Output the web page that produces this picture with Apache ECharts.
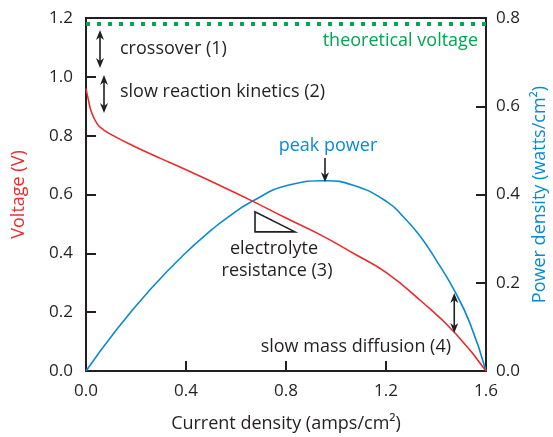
<!DOCTYPE html>
<html><head><meta charset="utf-8">
<script src="https://cdn.jsdelivr.net/npm/echarts@6/dist/echarts.min.js"></script>
<style>html,body{margin:0;padding:0;background:#fff}#c{width:553px;height:437px}</style>
</head><body><div id="c"></div>
<script>
// ---- data ----
var voltageCurrent = [0, 0.01, 0.02, 0.045, 0.07, 0.12, 0.19, 0.3, 0.38, 0.5, 0.66, 0.8, 0.94, 1.08, 1.2, 1.34, 1.48, 1.6];
var voltageValues  = [0.96, 0.92, 0.885, 0.84, 0.82, 0.795, 0.765, 0.722, 0.692, 0.645, 0.58, 0.52, 0.462, 0.395, 0.335, 0.238, 0.126, 0];
var powerCurrent = [0, 0.125, 0.259, 0.39, 0.509, 0.552, 0.663, 0.816, 0.956, 1.069, 1.203, 1.27, 1.336, 1.40, 1.469, 1.536, 1.6];
var powerValues  = [0, 0.096, 0.186, 0.263, 0.323, 0.342, 0.384, 0.422, 0.431, 0.421, 0.384, 0.349, 0.306, 0.252, 0.187, 0.108, 0];
var theoreticalVoltage = 1.175;
var xTicks = [0, 0.4, 0.8, 1.2, 1.6];
var leftTicks = [0, 0.2, 0.4, 0.6, 0.8, 1.0, 1.2];
var rightTicks = [0, 0.2, 0.4, 0.6, 0.8];

var INK = '#231f20', RED = '#ec2a2a', BLUE = '#0a8ad0', GREEN = '#00a651';
var FONT = 'Open Sans';

function pairs(xs, ys){ return xs.map(function(x,i){return [x, ys[i]];}); }

var chart = echarts.init(document.getElementById('c'));
var axisCommon = {
  axisLine:{show:true, lineStyle:{color:INK, width:2}},
  axisTick:{show:true, inside:true, length:10, lineStyle:{color:INK, width:2}},
  splitLine:{show:false},
  nameMoveOverlap:false,
  axisLabel:{color:INK, fontSize:17, fontFamily:FONT, formatter:function(v){return v.toFixed(1);}}
};
chart.setOption({
  animation:false,
  grid:{left:86, right:67, top:18, bottom:66, show:true, borderColor:INK, borderWidth:2, containLabel:false, outerBoundsMode:'none'},
  xAxis:Object.assign({}, axisCommon, {
    type:'value', min:xTicks[0], max:xTicks[xTicks.length-1], interval:xTicks[1]-xTicks[0],
    name:'Current density (amps/cm²)', nameLocation:'middle', nameGap:44,
    nameTextStyle:{color:INK, fontSize:18, fontFamily:FONT},
    axisLabel:Object.assign({}, axisCommon.axisLabel, {margin:12})
  }),
  yAxis:[
    Object.assign({}, axisCommon, {
      type:'value', min:leftTicks[0], max:leftTicks[leftTicks.length-1], interval:leftTicks[1]-leftTicks[0],
      name:'Voltage (V)', nameLocation:'middle', nameGap:58,
      nameTextStyle:{color:RED, fontSize:18, fontFamily:FONT},
      axisLabel:Object.assign({}, axisCommon.axisLabel, {margin:13})
    }),
    Object.assign({}, axisCommon, {
      type:'value', position:'right', min:rightTicks[0], max:rightTicks[rightTicks.length-1], interval:rightTicks[1]-rightTicks[0],
      name:'Power density (watts/cm²)', nameLocation:'middle', nameGap:45,
      nameTextStyle:{color:BLUE, fontSize:18, fontFamily:FONT},
      axisLabel:Object.assign({}, axisCommon.axisLabel, {margin:10})
    })
  ],
  series:[
    {type:'line', name:'Voltage', yAxisIndex:0, data:pairs(voltageCurrent, voltageValues),
     showSymbol:false, smooth:true, lineStyle:{color:RED, width:1.6}, z:3,
     markLine:{silent:true, symbol:'none', label:{show:false},
       lineStyle:{color:GREEN, width:4, type:[4,7], cap:'butt'},
       data:[{yAxis:theoreticalVoltage}]}},
    {type:'line', name:'Power', yAxisIndex:1, data:pairs(powerCurrent, powerValues),
     showSymbol:false, smooth:true, lineStyle:{color:BLUE, width:1.6}, z:2}
  ]
});

// annotations in data coordinates (current, voltage)
function px(pt){ return chart.convertToPixel({xAxisIndex:0, yAxisIndex:0}, pt); }
var g = [];
function head(x, y, dir){ // dir: +1 pointing down, -1 pointing up
  return {type:'polygon', shape:{points:[[x,y],[x-4,y-10*dir],[x,y-7*dir],[x+4,y-10*dir]]}, style:{fill:INK}, z:10};
}
function arrow(xv, yTop, yBot, both){
  var a = px([xv, yTop]), b = px([xv, yBot]);
  g.push({type:'line', shape:{x1:a[0], y1:a[1]+(both?3:0), x2:b[0], y2:b[1]-3}, style:{stroke:INK, lineWidth:1.6}, z:10});
  g.push(head(b[0], b[1], 1));
  if (both) g.push(head(a[0], a[1], -1));
}
arrow(0.056, 1.159, 1.03, true);
arrow(0.072, 1.006, 0.877, true);
arrow(1.473, 0.265, 0.129, true);
arrow(0.956, 0.724, 0.642, false);
var t1 = px([0.676, 0.541]), t2 = px([0.676, 0.473]), t3 = px([0.836, 0.473]);
g.push({type:'polygon', shape:{points:[t1,t2,t3]}, style:{fill:'none', stroke:INK, lineWidth:1.6}, z:10});

function text(str, x, y, align, color){
  g.push({type:'text', x:x, y:y, style:{text:str, fill:color||INK, font:'18px "'+FONT+'"', textAlign:align||'left', textVerticalAlign:'middle'}, z:10});
}
text('crossover (1)', 120, 49);
text('slow reaction kinetics (2)', 120, 92);
text('theoretical voltage', 478, 41, 'right', GREEN);
text('peak power', 328, 146, 'center', BLUE);
text('electrolyte', 274, 249, 'center');
text('resistance (3)', 277, 271, 'center');
text('slow mass diffusion (4)', 451, 347, 'right');
chart.setOption({graphic:g});
</script></body></html>
